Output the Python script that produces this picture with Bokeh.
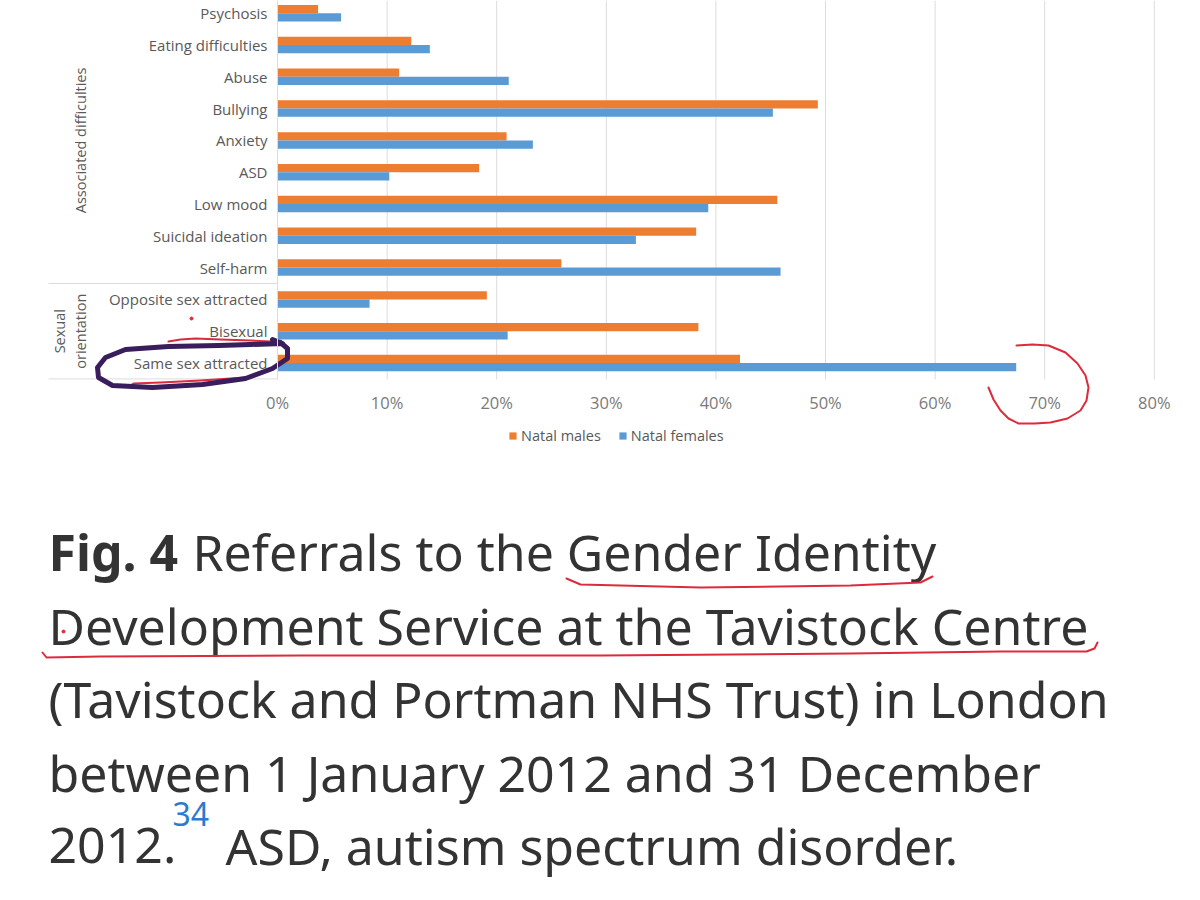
import math
from bokeh.plotting import figure
from bokeh.models import (Range1d, FixedTicker, Legend, LegendItem, LinearAxis,
                          ColumnDataSource)
from bokeh.transform import dodge
from bokeh.core.properties import value
from bokeh.embed import file_html
from bokeh.resources import INLINE

# ---------------- data (bottom row first) ----------------
categories = ["Same sex attracted", "Bisexual", "Opposite sex attracted",
              "Self-harm", "Suicidal ideation", "Low mood", "ASD", "Anxiety",
              "Bullying", "Abuse", "Eating difficulties", "Psychosis"]
natal_males = [42.2, 38.4, 19.1, 25.9, 38.2, 45.6, 18.4, 20.9, 49.3, 11.1, 12.2, 3.7]
natal_females = [67.4, 21.0, 8.4, 45.9, 32.7, 39.3, 10.2, 23.3, 45.2, 21.1, 13.9, 5.8]
series_names = ["Natal males", "Natal females"]
group_names = [["Sexual", "orientation"], ["Associated difficulties"]]
group_sizes = [3, 9]
x_ticks = [0, 10, 20, 30, 40, 50, 60, 70, 80]
x_tick_labels = ["0%", "10%", "20%", "30%", "40%", "50%", "60%", "70%", "80%"]

caption_lines = ["Referrals to the Gender Identity",
                 "Development Service at the Tavistock Centre",
                 "(Tavistock and Portman NHS Trust) in London",
                 "between 1 January 2012 and 31 December",
                 "2012.",
                 "ASD, autism spectrum disorder."]

ORANGE = "#ED7D31"
BLUE = "#5B9BD5"
GRID = "#dcdcdc"
LABEL = "#595959"
TICK = "#7a7a7a"
RED = "#dc2b3c"
PURPLE = "#3a1d5c"
TXT = "#333333"
CHART_FONT = "Open Sans"

# ---------------- geometry (picture pixels) ----------------
W, H = 1184, 884
ZERO_X = 277                     # x of 0 %
PX_PCT = 10.96                   # pixels per 1 %
ROW0_Y = 12.7                    # y of top row centre
PX_ROW = 31.8                    # pixels per row
CHART_BOTTOM = 379               # y where plot area ends
n = len(categories)
y_top = (n - 1) + ROW0_Y / PX_ROW
y_bot_page = y_top - H / PX_ROW
x_lo = -ZERO_X / PX_PCT
x_hi = (W - ZERO_X) / PX_PCT
chart_bottom = y_top - CHART_BOTTOM / PX_ROW

p = figure(width=W, height=H, output_backend="svg", toolbar_location=None,
           x_range=Range1d(x_lo, x_hi), y_range=Range1d(y_bot_page, y_top),
           x_axis_location=None, y_axis_location=None,
           min_border=0, min_border_left=0, min_border_right=0,
           min_border_top=0, min_border_bottom=0)
p.outline_line_color = None
p.grid.visible = False
p.extra_x_ranges = {"px": Range1d(0, W)}
p.extra_y_ranges = {"px": Range1d(H, 0)}

def ax(rx):
    return (rx - ZERO_X) / PX_PCT

# vertical gridlines at the tick values
p.segment(x0=x_ticks, x1=x_ticks, y0=[chart_bottom] * len(x_ticks),
          y1=[y_top] * len(x_ticks), line_color=GRID, line_width=1)

# bars
pos = list(range(n))
src = ColumnDataSource(dict(pos=pos, males=natal_males, females=natal_females))
bh = 0.26
r_m = p.hbar(y=dodge("pos", bh / 2), left=0, right="males", height=bh,
             source=src, fill_color=ORANGE, line_color=None)
r_f = p.hbar(y=dodge("pos", -bh / 2), left=0, right="females", height=bh,
             source=src, fill_color=BLUE, line_color=None)

# axes drawn at fixed locations inside the full-page frame
xaxis = LinearAxis(fixed_location=chart_bottom, ticker=FixedTicker(ticks=x_ticks),
                   major_label_overrides={t: l for t, l in zip(x_ticks, x_tick_labels)})
xaxis.axis_line_color = None
xaxis.major_tick_line_color = None
xaxis.minor_tick_line_color = None
xaxis.major_tick_out = 0
xaxis.major_tick_in = 0
xaxis.major_label_standoff = 11
xaxis.major_label_text_font = CHART_FONT
xaxis.major_label_text_font_size = "16.5px"
xaxis.major_label_text_color = TICK
p.add_layout(xaxis, "below")

yaxis = LinearAxis(fixed_location=0, ticker=FixedTicker(ticks=pos),
                   major_label_overrides={i: c for i, c in zip(pos, categories)},
                   bounds=(chart_bottom, y_top))
yaxis.axis_line_color = GRID
yaxis.major_tick_line_color = None
yaxis.minor_tick_line_color = None
yaxis.major_tick_out = 0
yaxis.major_tick_in = 0
yaxis.major_label_standoff = 10
yaxis.major_label_text_font = CHART_FONT
yaxis.major_label_text_font_size = "15px"
yaxis.major_label_text_color = LABEL
p.add_layout(yaxis, "left")

# group labels and separators
start = 0
for names, size in zip(group_names, group_sizes):
    centre = start + (size - 1) / 2
    k_n = len(names)
    p.text(x=[ax(80 - (k_n - 1 - k) * 21) for k in range(k_n)], y=[centre] * k_n,
           text=names, angle=math.pi / 2, text_align="center",
           text_baseline="middle", text_font=value(CHART_FONT),
           text_font_size="14.5px", text_color=LABEL)
    start += size
edges = [-0.5]
acc = 0
for size in group_sizes[:-1]:
    acc += size
    edges.append(acc - 0.5)
p.segment(x0=[ax(48)] * len(edges), x1=[0] * len(edges), y0=edges, y1=edges,
          line_color=GRID, line_width=1)

# legend
LEG_H = 18
legend = Legend(items=[LegendItem(label=value(series_names[0]), renderers=[r_m]),
                       LegendItem(label=value(series_names[1]), renderers=[r_f])],
                orientation="horizontal", location=(508, H - (436 - LEG_H // 2) - LEG_H),
                border_line_color=None, background_fill_alpha=0,
                padding=0, margin=0, spacing=17, glyph_width=9, glyph_height=9,
                label_standoff=4, label_height=LEG_H,
                label_text_font=CHART_FONT, label_text_font_size="14.5px",
                label_text_color=LABEL)
p.add_layout(legend)

# ---------------- caption (picture pixel coordinates) ----------------
FSZ = 50
SUP = 32
K = 0.38   # baseline correction, fraction of font size
CAP = value("Noto Sans")
baselines = [570, 644, 717, 791, 864, 864]
p.text(x=[48], y=[570 - K * FSZ], text=["Fig. 4"], text_font=CAP,
       text_font_size=f"{FSZ}px", text_font_style="bold", text_color=TXT,
       text_baseline="alphabetic", x_range_name="px", y_range_name="px")
p.text(x=[192, 48, 48, 48, 48, 225], y=[b - K * FSZ for b in baselines],
       text=caption_lines, text_font=CAP, text_font_size=f"{FSZ}px",
       text_color=TXT, text_baseline="alphabetic",
       x_range_name="px", y_range_name="px")
p.text(x=[172], y=[826 - K * SUP], text=["34"], text_font=CAP,
       text_font_size=f"{SUP}px", text_color="#2b7bd0",
       text_baseline="alphabetic", x_range_name="px", y_range_name="px")

# ---------------- hand-drawn marks on the screenshot ----------------
ellipse_pts = [(272, 339), (282, 343), (250, 344), (218, 345), (168, 346), (125, 349),
               (105, 357), (97, 367), (98, 377), (112, 385), (152, 387), (202, 384),
               (245, 378), (272, 368), (287, 358), (287, 348), (280, 342)]
arc_pts = [(1016, 345), (1032, 344), (1048, 345), (1065, 352), (1077, 363),
           (1085, 375), (1088, 387), (1086, 400), (1080, 410), (1067, 418),
           (1050, 422), (1034, 423), (1018, 423), (1008, 418), (1000, 410),
           (993, 399), (988, 387)]
bis_pts = [(168, 341), (180, 339), (195, 338), (220, 339), (250, 340), (270, 341)]
same_pts = [(130, 385), (133, 383), (160, 382), (200, 380), (230, 378), (248, 377)]
u1 = [(566, 578), (580, 584), (700, 587), (850, 585), (920, 582), (932, 576)]
u2 = [(42, 652), (46, 657), (100, 656), (300, 655), (600, 655), (850, 653),
      (1000, 651), (1086, 651), (1094, 648), (1097, 642)]
for pts, col, lw in ((bis_pts, RED, 2), (same_pts, RED, 2), (arc_pts, RED, 2),
                     (u1, RED, 2), (u2, RED, 2), (ellipse_pts, PURPLE, 5)):
    p.line(x=[a for a, b in pts], y=[b for a, b in pts], line_color=col,
           line_width=lw, line_join="round", line_cap="round",
           x_range_name="px", y_range_name="px")
p.scatter(x=[191, 63], y=[318, 631], size=3, color=RED,
          x_range_name="px", y_range_name="px")

open("out.html", "w").write(file_html(p, INLINE))
